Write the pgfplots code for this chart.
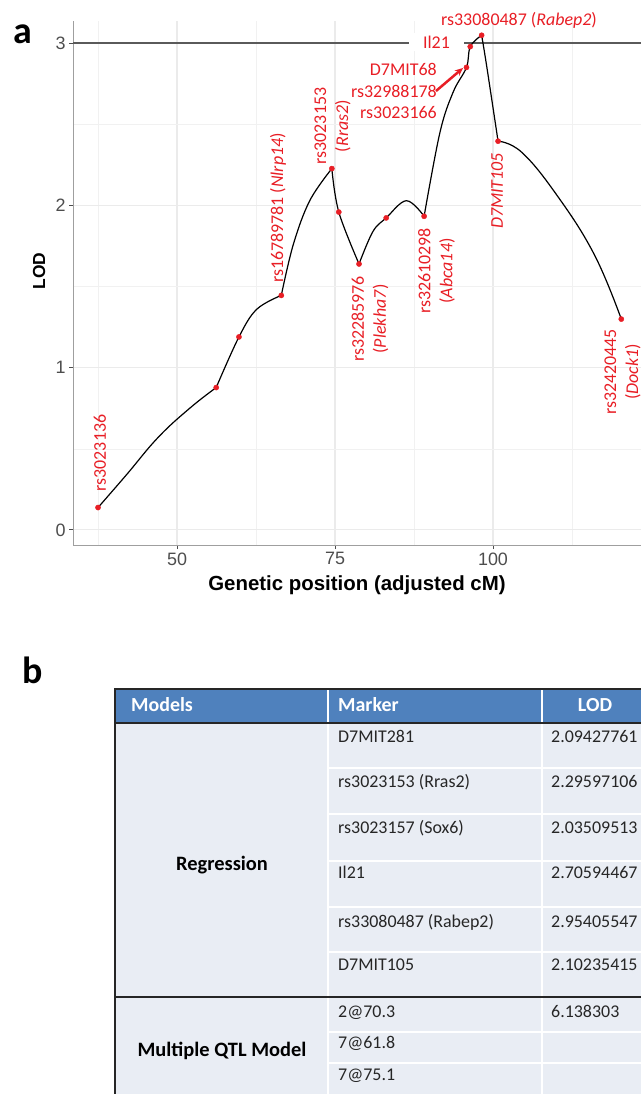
\documentclass[border=0pt]{standalone}
\usepackage{fontspec}
\setmainfont{Liberation Sans}
\newfontfamily\carlito{Carlito}
\usepackage{pgfplots}
\pgfplotsset{compat=1.18}
\usetikzlibrary{arrows.meta}
\definecolor{lblred}{RGB}{232,30,37}
\definecolor{gridc}{RGB}{235,235,235}
\definecolor{tickc}{RGB}{77,77,77}
\definecolor{hdrblue}{RGB}{79,129,189}
\definecolor{bodyc}{RGB}{233,237,244}
\definecolor{thr}{RGB}{90,90,90}

\begin{document}
\begin{tikzpicture}
\path[use as bounding box] (0,0) rectangle (641bp,-1094bp);
\begin{axis}[
  at={(73bp,-545bp)}, anchor=south west,
  scale only axis, width=568bp, height=524bp,
  xmin=33.54, xmax=123.42, ymin=-0.093, ymax=3.138,
  axis x line*=bottom, axis y line*=left,
  axis line style={-, draw=gray!75, line width=0.9bp},
  xtick={50,75,100}, ytick={0,1,2,3},
  minor xtick={37.5,62.5,87.5,112.5}, minor ytick={0.5,1.5,2.5},
  grid=both,
  major grid style={draw=gridc, line width=1.1bp},
  minor grid style={draw=gridc!70, line width=0.6bp},
  tick align=outside, major tick length=4bp, minor tick length=0bp,
  tick style={draw=tickc, line width=0.9bp},
  ticklabel style={font=\fontsize{18}{18}\selectfont, text=tickc},
  /pgf/number format/assume math mode=true,
  clip=false,
]
\addplot[thr, line width=2.2bp] coordinates {(33.54,3) (123.42,3)};
% curve segments
\addplot[black, line width=1.2bp, smooth, tension=0.7] coordinates {
 (37.5,0.138) (42,0.34) (47,0.57) (52,0.75) (56.2,0.878)};
\addplot[black, line width=1.2bp, smooth, tension=0.6] coordinates {
 (56.2,0.878) (59.8,1.19) (62.6,1.36) (66.5,1.446)};
\addplot[black, line width=1.2bp, smooth, tension=0.6] coordinates {
 (66.5,1.446) (68.4,1.76) (71,2.03) (74.5,2.228)};
\addplot[black, line width=1.2bp, smooth, tension=0.6] coordinates {
 (74.5,2.228) (75.6,1.96) (78.8,1.64)};
\addplot[black, line width=1.2bp, smooth, tension=0.6] coordinates {
 (78.8,1.64) (81,1.84) (83.1,1.924) (86.3,2.03) (89.1,1.934)};
\addplot[black, line width=1.2bp, smooth, tension=0.6] coordinates {
 (89.1,1.934) (91.6,2.45) (93.7,2.70) (95.8,2.852) (96.4,2.98) (98.2,3.05)};
\addplot[black, line width=1.2bp, smooth, tension=0.6] coordinates {
 (98.2,3.05) (99.0,2.86) (100.8,2.397)};
\addplot[black, line width=1.2bp, smooth, tension=0.7] coordinates {
 (100.8,2.397) (104.5,2.33) (110,2.07) (116,1.70) (120.3,1.30)};
% markers
\addplot[only marks, mark=*, mark size=2.6bp, mark options={draw=lblred, fill=lblred}] coordinates {
 (37.5,0.138) (56.2,0.878) (59.8,1.19) (66.5,1.446) (74.5,2.228) (75.6,1.96) (78.8,1.64)
 (83.1,1.924) (89.1,1.934) (95.8,2.852) (96.4,2.98) (98.2,3.05) (100.8,2.397) (120.3,1.30)};
\end{axis}

\begin{scope}[x=1bp, y=-1bp]
% axis titles and panel letters
\node[anchor=base, inner sep=0, font=\bfseries\fontsize{20.5}{20.5}\selectfont] at (357,590) {Genetic position (adjusted cM)};
\node[rotate=90, anchor=base, inner sep=0, font=\bfseries\fontsize{17.5}{17.5}\selectfont] at (45,271) {LOD};
\node[anchor=base west, inner sep=0, font=\carlito\bfseries\fontsize{38}{38}\selectfont] at (13,43) {a};
\node[anchor=base west, inner sep=0, font=\carlito\bfseries\fontsize{38}{38}\selectfont] at (22,683) {b};

% red marker labels
\begin{scope}[every node/.style={text=lblred, font=\carlito\fontsize{18}{22}\selectfont, inner sep=0, align=center}]
\node[rotate=90] at (100,453) {rs3023136};
\node[rotate=90] at (278,208) {rs16789781 (\textit{Nlrp14})};
\node[rotate=90] at (332.5,126) {rs3023153\\(\textit{Rras2})};
\node[rotate=90] at (370,319) {rs32285976\\(\textit{Plekha7})};
\node[rotate=90] at (436.5,271) {rs32610298\\(\textit{Abca14})};
\node[rotate=90] at (497,191) {\textit{D7MIT105}};
\node[rotate=90] at (622.5,372) {rs32420445\\(\textit{Dock1})};
\node[anchor=base] at (519,25) {rs33080487 (\textit{Rabep2})};
\node[anchor=base, fill=white, inner xsep=14bp, inner ysep=3bp] at (436.5,48) {Il21};
\node[anchor=base east] at (437,75) {D7MIT68};
\node[anchor=base east] at (437,97) {rs32988178};
\node[anchor=base east] at (437,118) {rs3023166};
\end{scope}
\draw[lblred, line width=2.5bp, -{Stealth[length=8bp,width=7bp]}] (436,91) -- (463,68);

% table
\fill[bodyc] (115,723) rectangle (660,1100);
\fill[hdrblue] (115,689) rectangle (660,723);
\draw[white, line width=2bp] (328,689) -- (328,1100);
\draw[white, line width=2bp] (542,689) -- (542,1100);
\foreach \yy in {768,814,861,907,952,1032,1063}
  \draw[white, line width=2bp] (329,\yy) -- (660,\yy);
\draw[black!85, line width=1.8bp] (114,689) -- (660,689);
\draw[black!85, line width=1.8bp] (115,723) -- (660,723);
\draw[black!85, line width=2.6bp] (115,997) -- (660,997);
\draw[black!85, line width=1.8bp] (115,688) -- (115,1100);

\begin{scope}[every node/.style={inner sep=0}]
\node[anchor=base west, text=white, font=\carlito\bfseries\fontsize{20}{20}\selectfont] at (131,711) {Models};
\node[anchor=base west, text=white, font=\carlito\bfseries\fontsize{20}{20}\selectfont] at (338,711) {Marker};
\node[anchor=base, text=white, font=\carlito\bfseries\fontsize{20}{20}\selectfont] at (595,711) {LOD};
\node[anchor=base, font=\carlito\bfseries\fontsize{20.5}{20.5}\selectfont] at (222,870) {Regression};
\node[anchor=base, font=\carlito\bfseries\fontsize{20.5}{20.5}\selectfont] at (222,1056) {Multiple QTL Model};
\end{scope}
\begin{scope}[every node/.style={inner sep=0, anchor=base west, text=black!85, font=\carlito\fontsize{18}{18}\selectfont}]
\node at (338,742) {D7MIT281};            \node at (551,742) {2.09427761};
\node at (338,787) {rs3023153 (Rras2)};   \node at (551,787) {2.29597106};
\node at (338,833) {rs3023157 (Sox6)};    \node at (551,833) {2.03509513};
\node at (338,878) {Il21};                \node at (551,878) {2.70594467};
\node at (338,927) {rs33080487 (Rabep2)}; \node at (551,927) {2.95405547};
\node at (338,970) {D7MIT105};            \node at (551,970) {2.10235415};
\node at (338,1017) {2@70.3};             \node at (551,1017) {6.138303};
\node at (338,1048) {7@61.8};
\node at (338,1080) {7@75.1};
\end{scope}
\end{scope}
\end{tikzpicture}
\end{document}
